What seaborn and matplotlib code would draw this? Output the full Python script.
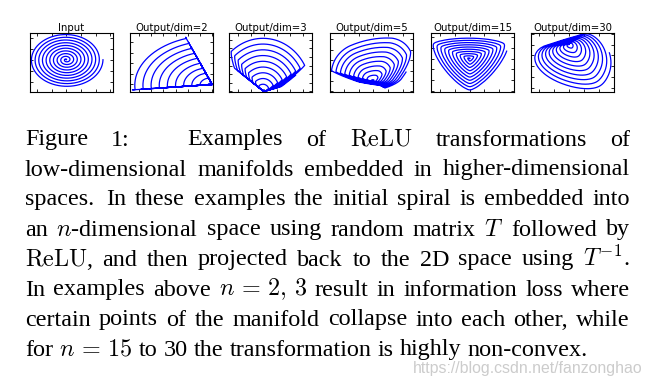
import numpy as np
import pandas as pd
import matplotlib
matplotlib.use('Agg')
import matplotlib.pyplot as plt
import seaborn as sns
from matplotlib.ticker import MaxNLocator

# ---------------- data ----------------
titles = ["Input", "Output/dim=2", "Output/dim=3", "Output/dim=5",
          "Output/dim=15", "Output/dim=30"]
dims = [0, 2, 3, 5, 15, 30]
n_turns = 10          # turns of the input spiral
n_points = 3000

# rows of the embedding matrix T (angle in degrees, norm) for each dimension
row_angles = {
    2: [200, 96],
    3: [120, 42, 70],
    5: [310, 170, 130, 80, 30],
    15: [2, 16, 30, 44, 58, 122, 136, 150, 164, 178, 242, 256, 270, 284, 298],
    30: [35, 37, 39, 42, 44, 46, 48, 51, 53, 55,
         170, 179.5, 189, 198.4, 207.9, 217.4, 226.8, 236.3, 245.8, 255.3,
         264.7, 274.2, 283.7, 293.2, 302.6, 312.1, 321.6, 331.1, 340.5, 350],
}
row_norms = {
    2: [1, 1],
    3: [1, 1, 1],
    5: [1, 1, 1.5, 1.5, 1],
    15: [1] * 15,
    30: [0.7] * 10 + [1] * 20,
}

caption_lines = [
    ["Figure", "1:", "Examples", "of", r"$\mathrm{ReLU}$", "transformations", "of"],
    ["low-dimensional", "manifolds", "embedded", "in", "higher-dimensional"],
    ["spaces.", "In", "these", "examples", "the", "initial", "spiral", "is", "embedded", "into"],
    ["an", r"$n$-dimensional", "space", "using", "random", "matrix", r"$T$", "followed", "by"],
    [r"$\mathrm{ReLU}$,", "and", "then", "projected", "back", "to", "the", "2D", "space",
     "using", r"$T^{-1}$."],
    ["In", "examples", "above", r"$n\,=\,2,\,3$", "result", "in", "information", "loss", "where"],
    ["certain", "points", "of", "the", "manifold", "collapse", "into", "each", "other,", "while"],
    ["for", r"$n\,=\,15$", "to", "30", "the", "transformation", "is", "highly", "non-convex."],
]
watermark = "https://blog.csdn.net/fanzonghao"

# ---------------- computation ----------------
theta = np.linspace(0, 2 * np.pi * n_turns, n_points)
radius = theta / theta[-1]
spiral = np.stack([radius * np.cos(theta), radius * np.sin(theta)], 1)


def relu_roundtrip(d):
    a = np.deg2rad(np.asarray(row_angles[d], float))
    nrm = np.asarray(row_norms[d], float)
    T = np.stack([nrm * np.cos(a), nrm * np.sin(a)], 1)
    return np.maximum(spiral @ T.T, 0) @ np.linalg.pinv(T).T


frames = []
for title, d in zip(titles, dims):
    pts = spiral if d == 0 else relu_roundtrip(d)
    frames.append(pd.DataFrame({"x": pts[:, 0], "y": pts[:, 1], "panel": title,
                                "order": np.arange(len(pts))}))
df = pd.concat(frames, ignore_index=True)

# ---------------- figure ----------------
W, H = 653, 378
fig = plt.figure(figsize=(W / 100, H / 100), dpi=100)

box_x = [30, 130, 229, 330, 431, 531]
box_w, box_top, box_bot = 83, 33, 92
margins = [  # left, right, bottom, top (fraction of data range)
    (0.02, 0.14, 0.11, 0.03),
    (0.03, 0.01, 0.04, 0.08),
    (0.03, 0.10, 0.01, 0.10),
    (0.02, 0.03, 0.08, 0.10),
    (0.03, 0.10, 0.04, 0.10),
    (0.05, 0.04, 0.06, 0.01),
]

for i, title in enumerate(titles):
    ax = fig.add_axes([box_x[i] / W, 1 - box_bot / H, box_w / W, (box_bot - box_top) / H])
    sub = df[df["panel"] == title]
    sns.lineplot(data=sub, x="x", y="y", sort=False, estimator=None,
                 color="blue", lw=0.9, ax=ax)
    x0, x1 = sub["x"].min(), sub["x"].max()
    y0, y1 = sub["y"].min(), sub["y"].max()
    dx, dy = x1 - x0, y1 - y0
    l, r, b, t = margins[i]
    ax.set_xlim(x0 - l * dx, x1 + r * dx)
    ax.set_ylim(y0 - b * dy, y1 + t * dy)
    ax.xaxis.set_major_locator(MaxNLocator(nbins=7))
    ax.yaxis.set_major_locator(MaxNLocator(nbins=7))
    ax.tick_params(direction="in", length=2.5, width=0.6, top=True, right=True,
                   labelbottom=False, labelleft=False)
    ax.set_xlabel("")
    ax.set_ylabel("")
    for s in ax.spines.values():
        s.set_linewidth(0.8)
        s.set_color("black")
    ax.set_title(title, fontsize=7.3, pad=1.2, family="DejaVu Sans")

# ---------------- caption (justified) ----------------
plt.rcParams["mathtext.fontset"] = "cm"
serif = "Liberation Serif"
fig.canvas.draw()
renderer = fig.canvas.get_renderer()


def text_width(s, fs):
    t = fig.text(0, 0, s, fontsize=fs, family=serif)
    w = t.get_window_extent(renderer).width
    t.remove()
    return w


fs0 = 18.0
space0 = text_width("a a", fs0) - 2 * text_width("a", fs0)
last = caption_lines[-1]
nat = sum(text_width(w, fs0) for w in last) + space0 * (len(last) - 1)
left_px, right_px, last_right = 25, 630, 588
fs = fs0 * (last_right - left_px) / nat
space = space0 * fs / fs0

base0, step = 145.5, 30.0
for li, words in enumerate(caption_lines):
    widths = [text_width(w, fs) for w in words]
    gw = []
    for k in range(len(words) - 1):
        if words[k] == "1:":
            gw.append(2.5)
        elif words[k].endswith("."):
            gw.append(1.35)
        else:
            gw.append(1.0)
    if li == len(caption_lines) - 1:
        unit = space
    else:
        unit = (right_px - left_px - sum(widths)) / sum(gw)
    x = left_px
    yb = base0 + step * li
    for k, w in enumerate(words):
        fig.text(x / W, 1 - yb / H, w, fontsize=fs, family=serif,
                 ha="left", va="baseline", color="black")
        if k < len(gw):
            x += widths[k] + gw[k] * unit

# watermark
wm_fs0 = 10
t = fig.text(0, 0, watermark, fontsize=wm_fs0, family="Liberation Sans")
wm_w = t.get_window_extent(renderer).width
t.remove()
fig.text(413 / W, 1 - 369 / H, watermark, fontsize=wm_fs0 * 230 / wm_w,
         family="Liberation Sans", color="#cccccc", ha="left", va="center", zorder=0)

fig.savefig("out.png", dpi=100)
